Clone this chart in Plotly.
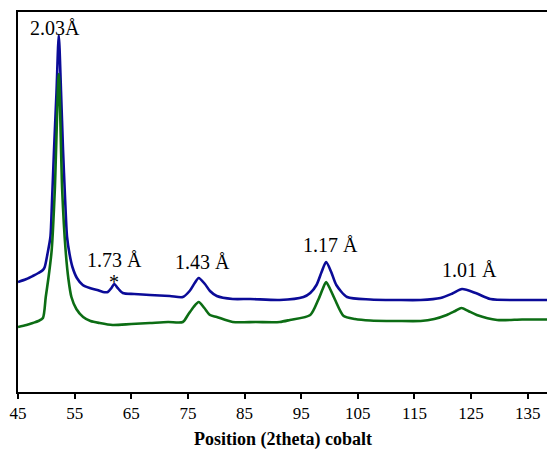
import plotly.graph_objects as go

# Blue pattern (2theta, intensity in arbitrary units)
blue_x = [45.0, 46.5, 47.6, 48.6, 49.4, 49.72, 50.2, 50.72, 51.0, 51.36, 51.8, 52.2, 52.6, 52.95, 53.3,
          53.66, 54.1, 54.61, 55.4, 56.43, 57.67, 59.0, 60.0, 60.85, 61.5, 62.0, 62.6, 63.5, 65.5,
          68.3, 71.8, 74.1, 75.3, 76.2, 76.9, 78.0, 78.9, 80.1, 82.9, 86.0, 91.2, 95.4, 96.6,
          97.7, 98.6, 99.4, 100.3, 101.2, 103.1, 107.2, 112.0, 116.1, 119.6, 121.7, 123.4, 125.8,
          128.4, 133.0, 138.5]
blue_y = [110, 113, 116, 119, 122, 125, 138, 155, 190, 242, 300, 357, 300, 242, 195,
          155, 138, 125, 114, 107, 104, 102, 100, 100, 104, 108, 104, 99, 98,
          97, 96, 95, 101, 109, 114, 108, 101, 96, 93, 93, 92, 95, 99,
          107, 120, 130, 120, 107, 95, 92.5, 92, 92, 94, 98.5, 103, 99,
          93, 92, 92]

# Green pattern
green_x = [45.0, 46.5, 47.6, 48.6, 49.4, 49.9, 50.4, 50.95, 51.5, 52.2, 52.8, 53.4, 53.9,
           54.43, 55.3, 56.5, 57.8, 59.4, 61.7, 65.0, 68.3, 71.5, 74.1, 75.0, 76.0, 76.9,
           77.9, 78.9, 80.1, 82.9, 87.0, 91.2, 93.0, 96.6, 98.0, 98.8, 99.4, 100.1, 101.0,
           102.5, 104.5, 107.2, 112.0, 116.1, 118.5, 120.7, 122.2, 123.3, 124.5, 126.0,
           129.6, 134.0, 138.5]
green_y = [65, 67, 69, 71, 74, 95, 115, 142, 202, 318, 202, 142, 113,
           95, 83, 75, 71, 69, 67, 68, 69, 70, 70, 77, 85, 90,
           84, 77, 75, 70, 70, 70, 72, 77, 92, 103, 110, 103, 92,
           76, 73, 71.5, 71, 71, 73, 77, 81, 84, 81, 77,
           72, 72.5, 72.5]

# Peak labels
label_x = [51.52, 61.96, 61.96, 77.63, 100.25, 124.8]
label_y = [364, 132, 110, 130.5, 147, 122]
label_text = ["2.03Å", "1.73 Å", "*", "1.43 Å", "1.17 Å", "1.01 Å"]

tick_vals = [45, 55, 65, 75, 85, 95, 105, 115, 125, 135]
x_title = "<b>Position (2theta) cobalt</b>"

SERIF = "Liberation Serif, Times New Roman, DejaVu Serif, serif"

fig = go.Figure()
fig.add_trace(go.Scatter(x=blue_x, y=blue_y, mode="lines",
                         line=dict(color="#0b0b98", width=2.6, shape="spline", smoothing=0.7),
                         showlegend=False, hoverinfo="skip"))
fig.add_trace(go.Scatter(x=green_x, y=green_y, mode="lines",
                         line=dict(color="#0c6d14", width=2.6, shape="spline", smoothing=0.7),
                         showlegend=False, hoverinfo="skip"))

for lx, ly, lt in zip(label_x, label_y, label_text):
    fig.add_annotation(x=lx, y=ly, xref="x", yref="y", text=lt, showarrow=False,
                       xanchor="center", yanchor="middle",
                       font=dict(family=SERIF, size=20, color="black"))

fig.add_annotation(x=0.5, y=0, xref="paper", yref="paper", yshift=-47,
                   text=x_title, showarrow=False, xanchor="center", yanchor="middle",
                   font=dict(family=SERIF, size=18, color="black"))

fig.update_layout(
    width=547, height=449,
    margin=dict(l=18, r=0, t=12, b=57, autoexpand=False),
    paper_bgcolor="white", plot_bgcolor="white",
    font=dict(family=SERIF, color="black"),
    xaxis=dict(range=[45, 138.4], tickvals=tick_vals, ticktext=[str(v) for v in tick_vals],
               showline=True, linecolor="black", linewidth=2, mirror=True,
               ticks="outside", ticklen=5, tickwidth=1.5, tickcolor="black",
               showgrid=False, zeroline=False, automargin=False,
               tickfont=dict(family=SERIF, size=17, color="black")),
    yaxis=dict(range=[0, 380], showline=True, linecolor="black", linewidth=2,
               showticklabels=False, ticks="", showgrid=False, zeroline=False,
               automargin=False),
)

fig.write_html("out.html", config={"displayModeBar": False},
               post_script="document.body.style.margin='0';document.body.style.padding='0';")
